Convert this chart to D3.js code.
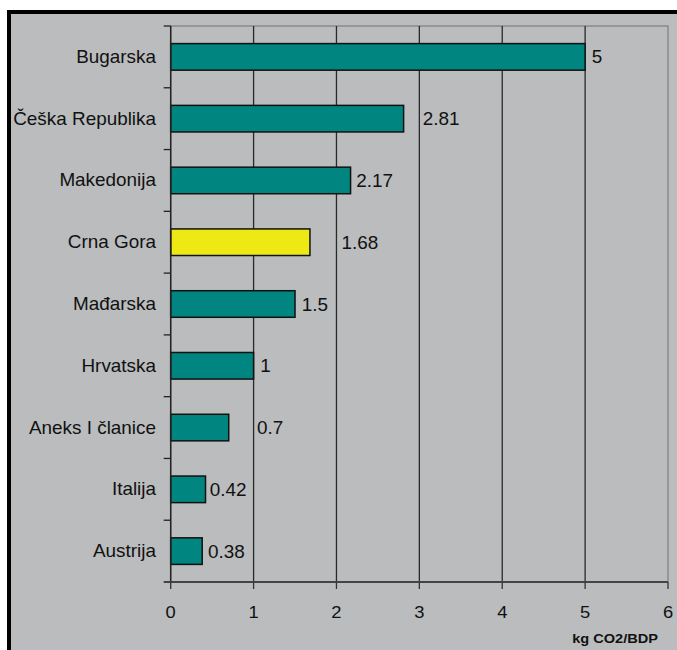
<!DOCTYPE html>
<html>
<head>
<meta charset="utf-8">
<script src="https://cdn.jsdelivr.net/npm/d3@7"></script>
<style>
  body { margin: 0; background: #fff; }
  text { font-family: Arial, "Liberation Sans", sans-serif; fill: #111; }
</style>
</head>
<body>
<script>
// data
var countries = ["Bugarska", "Češka Republika", "Makedonija", "Crna Gora", "Mađarska",
                 "Hrvatska", "Aneks I članice", "Italija", "Austrija"];
var values = [5, 2.81, 2.17, 1.68, 1.5, 1, 0.7, 0.42, 0.38];
var labelLabels = ["5", "2.81", "2.17", "1.68", "1.5", "1", "0.7", "0.42", "0.38"];
// where Excel put the value labels (in axis units)
var labelAt = [5.08, 3.04, 2.24, 2.06, 1.58, 1.08, 1.04, 0.47, 0.45];
var highlight = "Crna Gora";
var xTicks = [0, 1, 2, 3, 4, 5, 6];
var axisTitle = "kg CO2/BDP";

var W = 677, H = 650;
var sx = 1.08; // text in the picture is a bit wide

var svg = d3.select("body").append("svg")
  .attr("width", W).attr("height", H);

// chart area with thick black frame (top/left)
svg.append("rect").attr("x", 7).attr("y", 10).attr("width", W).attr("height", H)
  .attr("fill", "#000");
svg.append("rect").attr("x", 11).attr("y", 14).attr("width", W).attr("height", H)
  .attr("fill", "#babcbe");

var plotTop = 26, plotBottom = 582;
var x = d3.scaleLinear().domain([0, 6]).range([170.7, 668]);
var y = d3.scaleBand().domain(countries).range([plotTop, plotBottom])
  .paddingInner(0.57).paddingOuter(0.285);
var step = (plotBottom - plotTop) / countries.length;

// plot border
svg.append("rect")
  .attr("x", x(0)).attr("y", plotTop)
  .attr("width", x(6) - x(0)).attr("height", plotBottom - plotTop)
  .attr("fill", "none").attr("stroke", "#7d7f81").attr("stroke-width", 1.2);

// gridlines
svg.selectAll(".grid").data(xTicks.slice(1, 6)).enter().append("line")
  .attr("x1", d => x(d)).attr("x2", d => x(d))
  .attr("y1", plotTop).attr("y2", plotBottom)
  .attr("stroke", "#2a2a2a").attr("stroke-width", 1.3);

// bars
svg.selectAll(".bar").data(countries).enter().append("rect")
  .attr("x", x(0))
  .attr("y", d => y(d))
  .attr("width", (d, i) => x(values[i]) - x(0))
  .attr("height", y.bandwidth())
  .attr("fill", d => d === highlight ? "#eee814" : "#008580")
  .attr("stroke", "#111").attr("stroke-width", 1.5);

// left axis + ticks at band boundaries
svg.append("line").attr("x1", x(0)).attr("x2", x(0)).attr("y1", plotTop).attr("y2", plotBottom)
  .attr("stroke", "#222").attr("stroke-width", 1.5);
svg.selectAll(".ytick").data(d3.range(countries.length)).enter().append("line")
  .attr("x1", x(0) - 7).attr("x2", x(0))
  .attr("y1", d => plotTop + d * step).attr("y2", d => plotTop + d * step)
  .attr("stroke", "#222").attr("stroke-width", 1.3);

// bottom axis
svg.append("line").attr("x1", x(0) - 7).attr("x2", x(6)).attr("y1", plotBottom).attr("y2", plotBottom)
  .attr("stroke", "#444").attr("stroke-width", 2);
svg.selectAll(".xtick").data(xTicks).enter().append("line")
  .attr("x1", d => x(d)).attr("x2", d => x(d))
  .attr("y1", plotBottom).attr("y2", plotBottom + 7)
  .attr("stroke", "#333").attr("stroke-width", 1.3);

function stretched(sel, px, py) {
  return sel.attr("transform", "translate(" + px + "," + py + ") scale(" + sx + ",1)");
}

// tick labels
svg.selectAll(".xlab").data(xTicks).enter().append("text")
  .attr("text-anchor", "middle").style("font-size", "17px")
  .each(function(d) { stretched(d3.select(this), x(d), 618); })
  .text(d => d);

// category labels
svg.selectAll(".ylab").data(countries).enter().append("text")
  .attr("text-anchor", "end").style("font-size", "17.5px")
  .each(function(d) { stretched(d3.select(this), 156, y(d) + y.bandwidth() / 2 + 6); })
  .text(d => d);

// value labels
svg.selectAll(".vlab").data(countries).enter().append("text")
  .style("font-size", "17.5px")
  .each(function(d, i) { stretched(d3.select(this), x(labelAt[i]), y(d) + y.bandwidth() / 2 + 6.5); })
  .text((d, i) => labelLabels[i]);

// axis title
stretched(svg.append("text"), 658, 643)
  .attr("text-anchor", "end")
  .style("font-size", "13.5px").style("font-weight", "bold")
  .text(axisTitle);
</script>
</body>
</html>
